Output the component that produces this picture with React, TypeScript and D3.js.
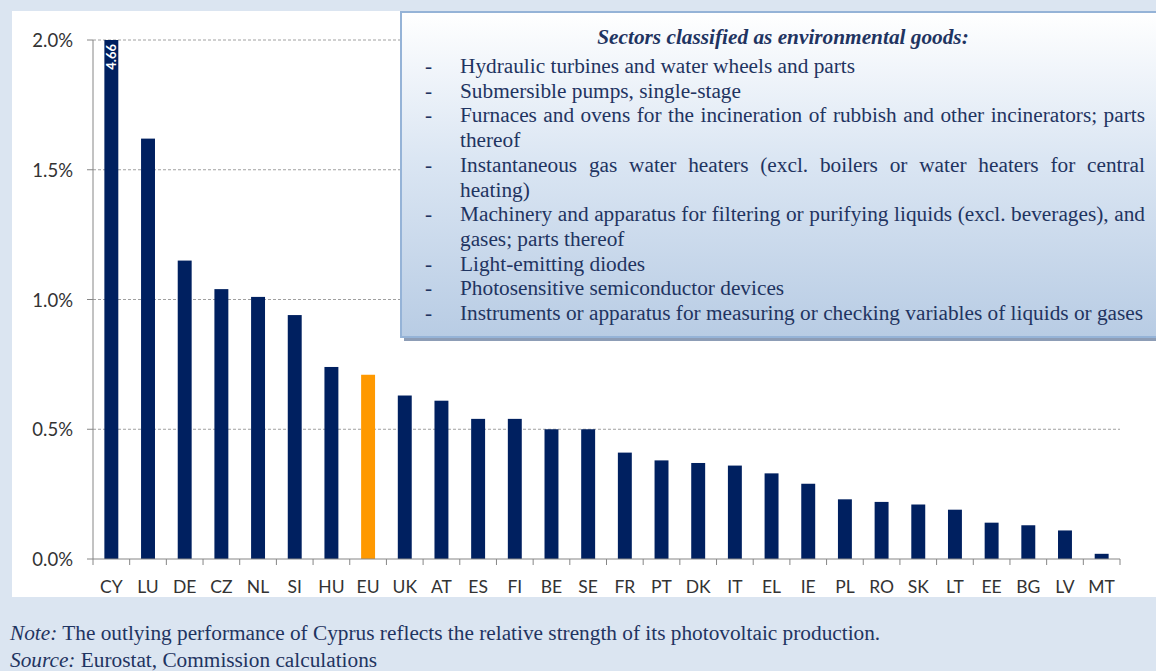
import React, { useEffect, useRef } from "react";
import * as d3 from "d3";

// Share of environmental goods in manufacturing exports, by country (%)
const countries = [
  "CY", "LU", "DE", "CZ", "NL", "SI", "HU", "EU", "UK", "AT", "ES", "FI", "BE", "SE",
  "FR", "PT", "DK", "IT", "EL", "IE", "PL", "RO", "SK", "LT", "EE", "BG", "LV", "MT",
];
const shares = [
  4.66, 1.62, 1.15, 1.04, 1.01, 0.94, 0.74, 0.71, 0.63, 0.61, 0.54, 0.54, 0.5, 0.5,
  0.41, 0.38, 0.37, 0.36, 0.33, 0.29, 0.23, 0.22, 0.21, 0.19, 0.14, 0.13, 0.11, 0.02,
];
const highlighted = "EU";
const yTicks = [0, 0.5, 1.0, 1.5, 2.0];
const yMax = 2.0;

const legendTitle = "Sectors classified as environmental goods:";
// Each item is a list of wrapped lines
const legendItems: string[][] = [
  ["Hydraulic turbines and water wheels and parts"],
  ["Submersible pumps, single-stage"],
  ["Furnaces and ovens for the incineration of rubbish and other incinerators; parts", "thereof"],
  ["Instantaneous gas water heaters (excl. boilers or water heaters for central", "heating)"],
  ["Machinery and apparatus for filtering or purifying liquids (excl. beverages), and", "gases; parts thereof"],
  ["Light-emitting diodes"],
  ["Photosensitive semiconductor devices"],
  ["Instruments or apparatus for measuring or checking variables of liquids or gases"],
];

const noteLabel = "Note:";
const noteText = " The outlying performance of Cyprus reflects the relative strength of its photovoltaic production.";
const sourceLabel = "Source:";
const sourceText = " Eurostat, Commission calculations";

const W = 1156;
const H = 671;
const NAVY = "#002060";
const ORANGE = "#ff9900";
const TEXT_NAVY = "#1f3461";
const BAND = "#dbe5f1";
const SANS = "Lato, 'Open Sans', sans-serif";
const SERIF = "'Liberation Serif', 'Times New Roman', serif";
const SERIF_SIZE = 21.3;

export default function App() {
  const legendRef = useRef<SVGGElement>(null);

  const plotLeft = 93;
  const plotRight = 1120;
  const plotTop = 40;
  const plotBottom = 559;

  const x = d3
    .scaleBand<string>()
    .domain(countries)
    .range([plotLeft, plotRight])
    .paddingInner(0.62)
    .paddingOuter(0.31);
  const y = d3.scaleLinear().domain([0, yMax]).range([plotBottom, plotTop]).clamp(true);
  const fmt = d3.format(".1%");
  const step = x.step();
  const boundaries = d3.range(countries.length + 1).map((i) => plotLeft + i * step);

  // Legend text layout
  const textX = 460;
  const rightEdge = 1145;
  const lineH = 24.7;
  const firstLineY = 73;
  const legendLines: { text: string; dash: boolean; justify: boolean }[] = [];
  legendItems.forEach((item) => {
    item.forEach((t, i) => {
      legendLines.push({ text: t, dash: i === 0, justify: i < item.length - 1 });
    });
  });

  useEffect(() => {
    if (!legendRef.current) return;
    d3.select(legendRef.current)
      .selectAll<SVGTextElement, unknown>("text.justify")
      .each(function () {
        const el = this;
        el.setAttribute("word-spacing", "0");
        const len = el.getComputedTextLength();
        const spaces = (el.textContent || "").split(" ").length - 1;
        if (spaces > 0) {
          const extra = (rightEdge - textX - len) / spaces;
          el.setAttribute("word-spacing", String(extra));
        }
      });
  }, []);

  return (
    <svg
      width={W}
      height={H}
      style={{ position: "absolute", left: 0, top: 0, display: "block" }}
    >
      <defs>
        <linearGradient id="boxFill" x1="0" y1="0" x2="0" y2="1">
          <stop offset="0" stopColor="#ffffff" />
          <stop offset="0.45" stopColor="#dbe6f3" />
          <stop offset="1" stopColor="#b8cce4" />
        </linearGradient>
      </defs>

      {/* page background and white chart panel */}
      <rect x={0} y={0} width={W} height={H} fill={BAND} />
      <rect x={12} y={11} width={W - 12} height={586} fill="#ffffff" />

      {/* gridlines */}
      {yTicks
        .filter((t) => t > 0)
        .map((t) => (
          <line
            key={t}
            x1={plotLeft}
            x2={plotRight}
            y1={y(t)}
            y2={y(t)}
            stroke="#a0a0a0"
            strokeWidth={1}
            strokeDasharray="3,2"
          />
        ))}

      {/* bars */}
      {countries.map((c, i) => (
        <rect
          key={c}
          x={x(c)}
          y={y(shares[i])}
          width={x.bandwidth()}
          height={plotBottom - y(shares[i])}
          fill={c === highlighted ? ORANGE : NAVY}
        />
      ))}

      {/* value label for the clipped bar */}
      {countries.map((c, i) =>
        shares[i] > yMax ? (
          <text
            key={"lbl" + c}
            x={(x(c) as number) + x.bandwidth() / 2}
            y={plotTop + 4}
            transform={`rotate(-90, ${(x(c) as number) + x.bandwidth() / 2}, ${plotTop + 4})`}
            textAnchor="end"
            dominantBaseline="central"
            fill="#ffffff"
            fontFamily={SANS}
            fontWeight="bold"
            fontSize={13}
          >
            {shares[i].toFixed(2)}
          </text>
        ) : null
      )}

      {/* y axis */}
      <line x1={plotLeft} x2={plotLeft} y1={plotTop} y2={plotBottom} stroke="#868686" />
      {yTicks.map((t) => (
        <g key={"yt" + t}>
          <line x1={plotLeft - 6} x2={plotLeft} y1={y(t)} y2={y(t)} stroke="#868686" />
          <text
            x={73}
            y={y(t)}
            textAnchor="end"
            dominantBaseline="central"
            fontFamily={SANS}
            fontSize={18.5}
            fill="#333333"
          >
            {fmt(t / 100)}
          </text>
        </g>
      ))}

      {/* x axis */}
      <line x1={plotLeft} x2={plotRight} y1={plotBottom} y2={plotBottom} stroke="#868686" />
      {boundaries.map((bx, i) => (
        <line key={"xt" + i} x1={bx} x2={bx} y1={plotBottom} y2={plotBottom + 6} stroke="#868686" />
      ))}
      {countries.map((c) => (
        <text
          key={"xl" + c}
          x={(x(c) as number) + x.bandwidth() / 2}
          y={593}
          textAnchor="middle"
          fontFamily={SANS}
          fontSize={17.5}
          fill="#333333"
        >
          {c}
        </text>
      ))}

      {/* legend box */}
      <g ref={legendRef}>
        <rect x={404} y={15} width={W - 404} height={326} fill="#8d9db6" />
        <rect
          x={401}
          y={12}
          width={W - 400}
          height={325}
          fill="url(#boxFill)"
          stroke="#95b3d7"
          strokeWidth={2}
        />
        <text
          x={783}
          y={44}
          textAnchor="middle"
          fontFamily={SERIF}
          fontStyle="italic"
          fontWeight="bold"
          fontSize={SERIF_SIZE}
          fill={TEXT_NAVY}
        >
          {legendTitle}
        </text>
        {legendLines.map((ln, i) => (
          <g key={"ll" + i}>
            {ln.dash && (
              <text x={425} y={firstLineY + i * lineH} fontFamily={SERIF} fontSize={SERIF_SIZE} fill={TEXT_NAVY}>
                -
              </text>
            )}
            <text
              className={ln.justify ? "justify" : undefined}
              x={textX}
              y={firstLineY + i * lineH}
              fontFamily={SERIF}
              fontSize={SERIF_SIZE}
              fill={TEXT_NAVY}
            >
              {ln.text}
            </text>
          </g>
        ))}
      </g>

      {/* notes */}
      <text x={10} y={640} fontFamily={SERIF} fontSize={SERIF_SIZE} fill={TEXT_NAVY}>
        <tspan fontStyle="italic">{noteLabel}</tspan>
        <tspan>{noteText}</tspan>
      </text>
      <text x={10} y={667} fontFamily={SERIF} fontSize={SERIF_SIZE} fill={TEXT_NAVY}>
        <tspan fontStyle="italic">{sourceLabel}</tspan>
        <tspan>{sourceText}</tspan>
      </text>
    </svg>
  );
}
